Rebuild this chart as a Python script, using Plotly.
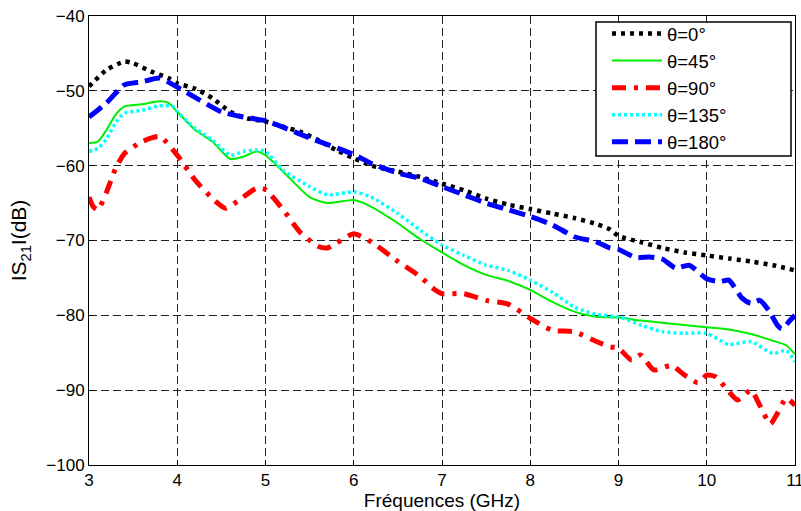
import plotly.graph_objects as go

# θ = 0°
f0 = [3.0, 3.2, 3.4, 3.5, 3.7, 3.9, 4.0, 4.2, 4.4, 4.6, 4.8, 5.0, 5.2, 5.4, 5.6, 5.8, 6.0, 6.2, 6.5, 6.75,
      7.0, 7.25, 7.5, 7.75, 8.0, 8.25, 8.5, 8.75, 8.9, 9.0, 9.25, 9.5, 9.75, 10.0, 10.25, 10.5, 10.75, 11.0]
s0 = [-49.4, -47.2, -46.1, -46.3, -47.4, -48.3, -49.0, -49.7, -51.0, -52.8, -53.7, -54.1, -54.8, -55.5, -56.6, -57.9, -59.0, -60.0, -60.8, -61.5,
      -62.4, -63.3, -64.4, -65.2, -65.8, -66.4, -67.0, -67.8, -68.5, -69.4, -70.2, -71.0, -71.6, -72.0, -72.4, -72.8, -73.3, -74.0]

# θ = 45°
f45 = [3.0, 3.1, 3.2, 3.3, 3.4, 3.6, 3.8, 3.9, 4.0, 4.2, 4.4, 4.6, 4.75, 4.9, 5.0, 5.2, 5.5, 5.7, 6.0, 6.2, 6.5, 6.75,
       7.0, 7.25, 7.5, 7.75, 8.0, 8.25, 8.5, 8.75, 9.0, 9.25, 9.5, 9.75, 10.0, 10.25, 10.5, 10.75, 10.9, 11.0]
s45 = [-57.0, -56.8, -55.2, -53.2, -52.1, -51.8, -51.4, -51.6, -52.8, -55.2, -56.8, -59.1, -58.8, -58.1, -58.6, -60.8, -64.2, -65.0, -64.6, -65.5, -67.7, -69.8,
       -71.6, -73.3, -74.6, -75.4, -76.6, -78.2, -79.5, -80.2, -80.3, -80.7, -81.0, -81.3, -81.6, -81.9, -82.5, -83.4, -84.0, -85.2]

# θ = 90°
f90 = [3.0, 3.05, 3.1, 3.2, 3.3, 3.4, 3.6, 3.8, 4.0, 4.2, 4.4, 4.55, 4.7, 4.9, 5.0, 5.2, 5.4, 5.6, 5.7, 5.8, 6.0, 6.2, 6.5, 6.75, 6.9,
       7.0, 7.25, 7.5, 7.75, 8.0, 8.25, 8.5, 8.75, 8.9, 9.0, 9.15, 9.25, 9.4, 9.6, 9.75, 9.9, 10.0, 10.1, 10.25, 10.35, 10.5, 10.6, 10.72, 10.8, 10.9, 11.0]
s90 = [-64.2, -65.5, -65.9, -63.5, -60.4, -58.4, -56.8, -56.1, -58.6, -61.9, -64.4, -65.7, -64.6, -63.0, -63.2, -65.9, -69.0, -70.8, -71.0, -70.4, -69.1, -70.2, -72.8, -74.8, -76.4,
       -77.1, -77.1, -78.0, -78.5, -80.4, -82.0, -82.2, -83.5, -84.2, -84.4, -86.0, -85.3, -87.3, -86.7, -88.0, -89.0, -88.0, -88.2, -90.2, -91.3, -90.0, -92.0, -94.5, -93.1, -91.1, -92.0]

# θ = 135°
f135 = [3.0, 3.1, 3.2, 3.3, 3.4, 3.6, 3.8, 3.95, 4.0, 4.2, 4.4, 4.6, 4.75, 4.9, 5.0, 5.2, 5.5, 5.7, 6.0, 6.2, 6.5, 6.75,
        7.0, 7.25, 7.5, 7.75, 8.0, 8.25, 8.5, 8.75, 9.0, 9.25, 9.5, 9.75, 10.0, 10.25, 10.5, 10.75, 10.9, 11.0]
s135 = [-58.1, -57.7, -56.4, -54.3, -53.0, -52.6, -52.0, -52.1, -52.8, -55.0, -56.6, -58.6, -58.1, -57.9, -58.1, -60.6, -62.8, -63.9, -63.5, -64.2, -66.4, -68.6,
        -70.6, -72.0, -73.3, -74.0, -75.3, -76.9, -78.9, -79.9, -80.2, -81.3, -82.2, -82.4, -82.4, -83.9, -83.5, -85.1, -84.7, -86.2]

# θ = 180°
f180 = [3.0, 3.2, 3.4, 3.6, 3.8, 4.0, 4.25, 4.5, 4.75, 5.0, 5.5, 6.0, 6.2, 6.5, 6.75,
        7.0, 7.25, 7.5, 7.75, 8.0, 8.25, 8.5, 8.75, 8.9, 9.0, 9.2, 9.35, 9.5, 9.65, 9.8, 10.0, 10.15, 10.25, 10.4, 10.5, 10.6, 10.7, 10.8, 10.85, 10.95, 11.0]
s180 = [-53.5, -51.6, -49.2, -48.8, -48.3, -49.5, -51.2, -52.8, -53.5, -54.0, -56.3, -58.5, -59.7, -61.0, -61.7,
        -62.8, -63.9, -65.0, -65.9, -66.8, -67.9, -69.5, -70.2, -71.0, -71.2, -72.3, -72.2, -72.5, -73.7, -73.3, -75.1, -75.5, -75.3, -77.7, -78.4, -78.0, -79.3, -81.3, -81.8, -80.6, -80.0]

names = ["θ=0°", "θ=45°", "θ=90°", "θ=135°", "θ=180°"]
colors = ["#000000", "#00ee00", "#ff0000", "#00ffff", "#0000ff"]
dashes = ["4px,5px", "solid", "14px,8px,4px,8px", "3px,3px", "16px,7px"]
widths = [4.5, 2, 5, 3.5, 5]
xs = [f0, f45, f90, f135, f180]
ys = [s0, s45, s90, s135, s180]

fig = go.Figure()
for x, y, n, c, d, w in zip(xs, ys, names, colors, dashes, widths):
    fig.add_trace(go.Scatter(x=x, y=y, mode="lines", name=n,
                             line=dict(color=c, width=w, dash=d, shape="spline", smoothing=0.6)))

axis_common = dict(showline=True, linecolor="black", linewidth=1, mirror=True,
                   showgrid=True, gridcolor="#222222", gridwidth=1, griddash="8px,4px",
                   ticks="inside", ticklen=5, tickcolor="black", zeroline=False,
                   automargin=False, ticklabeloverflow="allow",
                   tickfont=dict(family="Liberation Sans, Arial", size=17, color="black"))

# legend frame (pixel box 596..791 x 22..156 mapped to paper coords)
L, R, T, B = 89, 6, 16, 46
PW, PH = 801 - L - R, 511 - T - B
def px(xp):
    return (xp - L) / PW
def py(yp):
    return 1 - (yp - T) / PH

fig.update_layout(
    width=801, height=511,
    margin=dict(l=L, r=R, t=T, b=B),
    paper_bgcolor="white", plot_bgcolor="white",
    font=dict(family="Liberation Sans, Arial", color="black"),
    xaxis=dict(range=[3, 11], dtick=1, **axis_common,
               title=dict(text="Fréquences (GHz)", font=dict(size=19), standoff=2)),
    yaxis=dict(range=[-100, -40], dtick=10, **axis_common,
               title=dict(text="IS<sub>21</sub>I(dB)", font=dict(size=21), standoff=13)),
    legend=dict(x=px(607), y=py(15), xanchor="left", yanchor="top",
                bgcolor="rgba(0,0,0,0)", borderwidth=0,
                font=dict(family="Liberation Sans, Arial", size=18.5, color="black"),
                itemwidth=50, tracegroupgap=0),
    shapes=[dict(type="rect", xref="paper", yref="paper",
                 x0=px(596), x1=px(791), y0=py(156), y1=py(22),
                 line=dict(color="black", width=1.5), fillcolor="white", layer="above")],
    showlegend=True,
)

fig.write_html("out.html", config={"displayModeBar": False},
               post_script="document.body.style.margin='0';document.body.style.overflow='hidden';")
